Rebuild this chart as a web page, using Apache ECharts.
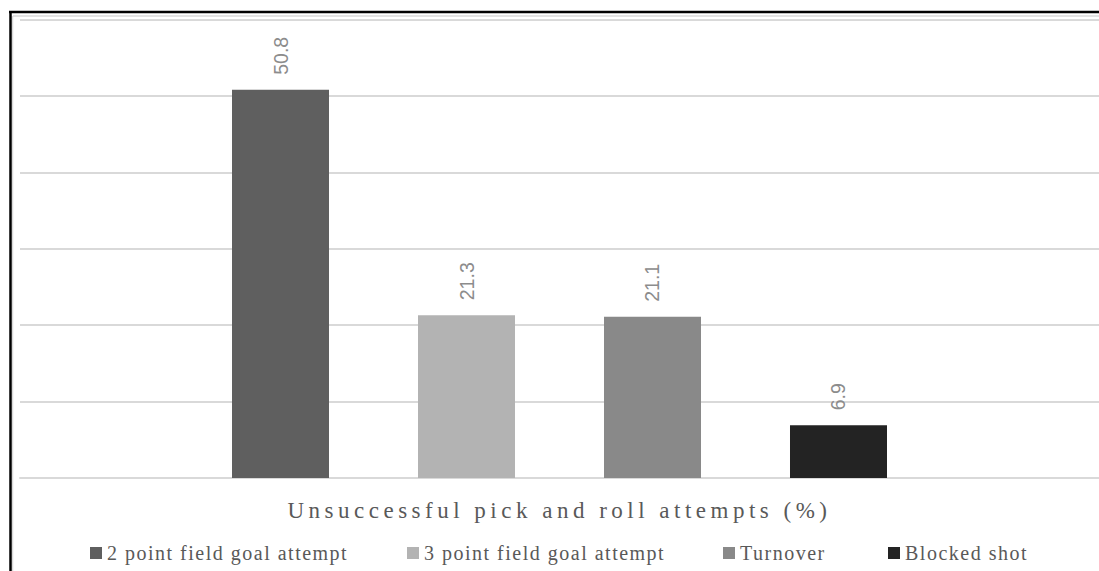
<!DOCTYPE html>
<html>
<head>
<meta charset="utf-8">
<script src="https://cdn.jsdelivr.net/npm/echarts@6/dist/echarts.min.js"></script>
<style>
  html, body { margin: 0; padding: 0; background: #ffffff; }
  #chart { width: 1099px; height: 571px; }
</style>
</head>
<body>
<div id="chart"></div>
<script>
// ---- data ----
const categories = ['Unsuccessful pick and roll attempts (%)'];
const axisTitle = 'Unsuccessful pick and roll attempts (%)';
const seriesNames = ['2 point field goal attempt', '3 point field goal attempt', 'Turnover', 'Blocked shot'];
const seriesValues = [50.8, 21.3, 21.1, 6.9];
const yMin = 0, yMax = 60, yStep = 10;

// ---- chart ----
const chart = echarts.init(document.getElementById('chart'), null, { renderer: 'svg' });
const barColors = ['#5f5f5f', '#b3b3b3', '#898989', '#232323'];
const legendLefts = [90, 407, 723, 888];

const option = {
  animation: false,
  backgroundColor: '#ffffff',
  color: barColors,
  grid: { left: 20, right: 0, top: 19.5, bottom: 93, containLabel: false },
  xAxis: {
    type: 'category',
    data: categories,
    axisLabel: { show: false },
    axisTick: { show: false },
    axisLine: { show: true, lineStyle: { color: '#d9d9d9', width: 2 } },
    name: axisTitle,
    nameLocation: 'middle',
    nameGap: 21,
    nameTextStyle: { fontFamily: 'Liberation Serif', fontSize: 23, color: '#595959' }
  },
  yAxis: {
    type: 'value',
    min: yMin, max: yMax, interval: yStep,
    axisLabel: { show: false },
    axisTick: { show: false },
    axisLine: { show: false },
    splitLine: { show: true, lineStyle: { color: '#d9d9d9', width: 2 } }
  },
  legend: seriesNames.map((name, i) => ({
    data: [name],
    left: legendLefts[i],
    top: 543,
    padding: 0,
    icon: 'rect',
    itemWidth: 12,
    itemHeight: 12,
    textStyle: { fontFamily: 'Liberation Serif', fontSize: 20, color: '#595959', padding: [0, 0, 0, 0] }
  })),
  graphic: [
    { type: 'line', shape: { x1: 13, y1: 16, x2: 1099, y2: 16 }, style: { stroke: '#d9d9d9', lineWidth: 1.5 }, silent: true },
    { type: 'line', shape: { x1: 12.5, y1: 16, x2: 12.5, y2: 571 }, style: { stroke: '#d9d9d9', lineWidth: 1.5 }, silent: true },
    { type: 'line', shape: { x1: 9, y1: 12, x2: 1099, y2: 12 }, style: { stroke: '#000000', lineWidth: 2.5 }, silent: true },
    { type: 'line', shape: { x1: 10.5, y1: 11, x2: 10.5, y2: 571 }, style: { stroke: '#000000', lineWidth: 2.5 }, silent: true }
  ],
  series: seriesNames.map((name, i) => ({
    type: 'bar',
    name: name,
    data: [seriesValues[i]],
    barWidth: 97,
    barGap: '91.75%',
    label: {
      show: true,
      position: 'top',
      rotate: 90,
      align: 'left',
      verticalAlign: 'middle',
      distance: 15,
      fontFamily: 'Liberation Sans',
      fontSize: 19.5,
      color: '#8c8c8c',
      formatter: (p) => p.value.toFixed(1)
    }
  }))
};
chart.setOption(option);

function spaceTexts() {
  document.querySelectorAll('#chart text').forEach(t => {
    const s = t.textContent;
    if (s === axisTitle) {
      t.style.letterSpacing = '4.5px';
    } else if (seriesNames.indexOf(s) >= 0) {
      t.style.letterSpacing = '1.5px';
    }
  });
}
spaceTexts();
chart.on('finished', spaceTexts);
requestAnimationFrame(() => { spaceTexts(); requestAnimationFrame(spaceTexts); });
setTimeout(spaceTexts, 50);
setTimeout(spaceTexts, 300);
</script>
</body>
</html>
